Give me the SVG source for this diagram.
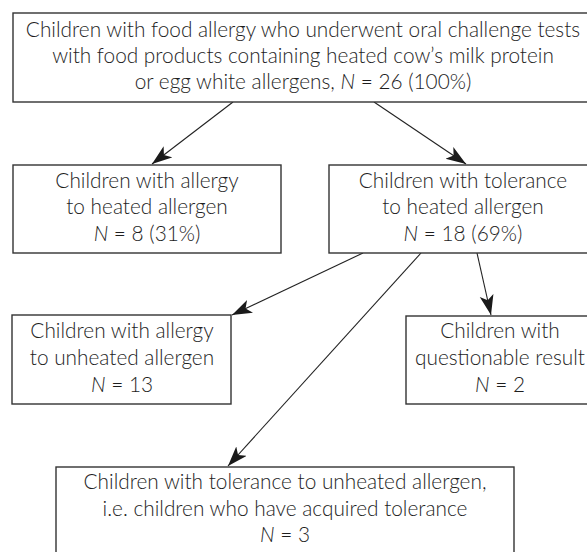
<svg xmlns="http://www.w3.org/2000/svg" width="587" height="552" viewBox="0 0 587 552">
<style>
.box{fill:#fff;stroke:#333;stroke-width:1.4}
.t{font-family:Lato,"Liberation Sans",sans-serif;font-size:20.8px;font-weight:300;fill:#1e1e1e;text-anchor:middle}
.i{font-style:italic}
.c{stroke:#222;stroke-width:1.1;fill:none;marker-end:url(#ah)}
</style>
<defs>
<marker id="ah" markerUnits="userSpaceOnUse" markerWidth="22" markerHeight="16" refX="20" refY="7" orient="auto">
<path d="M0,0 L20,7 L0,14 L5,7 z" fill="#1a1a1a"/>
</marker>
</defs>
<rect width="587" height="552" fill="#fff"/>
<g id="connectors">
<line class="c" x1="233" y1="102" x2="152" y2="164"/>
<line class="c" x1="374" y1="102" x2="466" y2="164"/>
<line class="c" x1="363" y1="253" x2="232" y2="315"/>
<line class="c" x1="421" y1="253" x2="228" y2="466"/>
<line class="c" x1="477" y1="253" x2="491" y2="315"/>
</g>
<g id="n-root">
<rect class="box" x="13" y="13" width="582" height="89"/>
<text class="t" x="303" y="37">Children with food allergy who underwent oral challenge tests</text>
<text class="t" x="303" y="63">with food products containing heated cow’s milk protein</text>
<text class="t" x="303" y="89">or egg white allergens, <tspan class="i">N</tspan> = 26 (100%)</text>
</g>
<g id="n-allergy-heated">
<rect class="box" x="13" y="165" width="268" height="88"/>
<text class="t" x="147" y="188">Children with allergy</text>
<text class="t" x="147" y="214">to heated allergen</text>
<text class="t" x="147" y="241"><tspan class="i">N</tspan> = 8 (31%)</text>
</g>
<g id="n-tolerance-heated">
<rect class="box" x="329" y="165" width="268" height="88"/>
<text class="t" x="463" y="188">Children with tolerance</text>
<text class="t" x="463" y="214">to heated allergen</text>
<text class="t" x="463" y="241"><tspan class="i">N</tspan> = 18 (69%)</text>
</g>
<g id="n-allergy-unheated">
<rect class="box" x="12" y="315" width="219" height="89"/>
<text class="t" x="122" y="338">Children with allergy</text>
<text class="t" x="122" y="365">to unheated allergen</text>
<text class="t" x="122" y="392"><tspan class="i">N</tspan> = 13</text>
</g>
<g id="n-questionable">
<rect class="box" x="406" y="316" width="190" height="88"/>
<text class="t" x="500" y="338">Children with</text>
<text class="t" x="500" y="365">questionable result</text>
<text class="t" x="500" y="392"><tspan class="i">N</tspan> = 2</text>
</g>
<g id="n-acquired">
<rect class="box" x="56" y="467" width="458" height="100"/>
<text class="t" x="285" y="489">Children with tolerance to unheated allergen,</text>
<text class="t" x="285" y="516">i.e. children who have acquired tolerance</text>
<text class="t" x="285" y="542"><tspan class="i">N</tspan> = 3</text>
</g>
</svg>
